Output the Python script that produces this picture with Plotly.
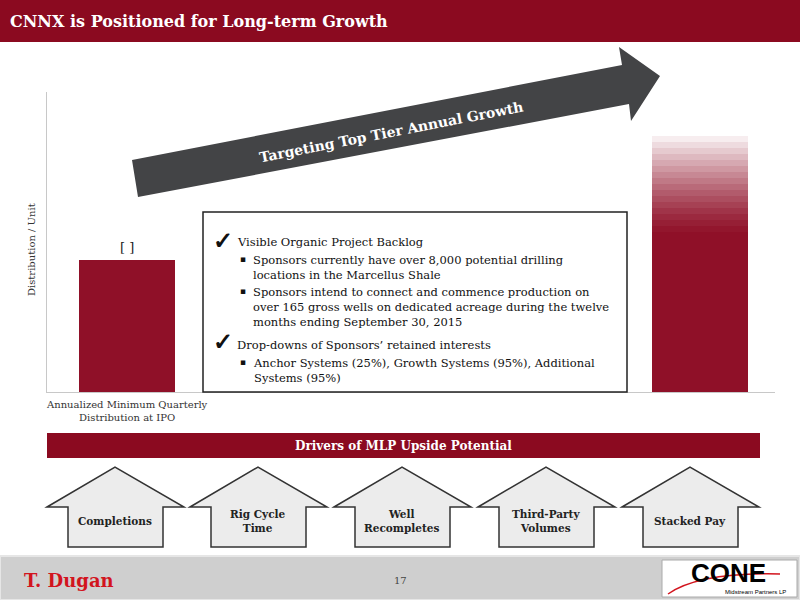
import plotly.graph_objects as go

categories = ["ipo", "future"]
base_values = [132, 160]
fade_steps = [6] * 17  # gradient segments stacked on the right bar (total top ~262)
drivers = ["Completions", "Rig Cycle<br>Time", "Well<br>Recompletes", "Third-Party<br>Volumes", "Stacked Pay"]

RED = "#8b0a20"
SERIF = "DejaVu Serif"
W, H = 800, 600
def px(x): return x / W
def py(y): return 1 - y / H

def mix(t):
    a = (143, 16, 40); b = (255, 255, 255)
    return "rgb(%d,%d,%d)" % tuple(round(a[i] + (b[i] - a[i]) * t) for i in range(3))

fig = go.Figure()
fig.add_bar(x=categories, y=base_values, width=0.166, marker=dict(color="#8f1028", line=dict(width=0)),
            showlegend=False, hoverinfo="skip")
n = len(fade_steps)
for i, s in enumerate(fade_steps):
    fig.add_bar(x=[categories[1]], y=[s], width=0.166,
                marker=dict(color=mix(((i + 1) / n) ** 1.3), line=dict(width=0)), showlegend=False, hoverinfo="skip")

shapes = []
shapes.append(dict(type="rect", xref="paper", yref="paper", x0=0, x1=1, y0=py(42), y1=1, fillcolor=RED, line_width=0, layer="below"))
pts = [(132, 160), (622, 65), (619, 47), (660, 76), (631, 121), (629, 104), (138, 197)]
path = "M " + " L ".join(f"{px(a)},{py(b)}" for a, b in pts) + " Z"
shapes.append(dict(type="path", xref="paper", yref="paper", path=path, fillcolor="#434446", line_width=0))
shapes.append(dict(type="rect", xref="paper", yref="paper", x0=px(203), x1=px(627), y0=py(392), y1=py(212),
                   fillcolor="white", line=dict(color="#222", width=1.5)))
shapes.append(dict(type="rect", xref="paper", yref="paper", x0=px(47), x1=px(760), y0=py(458), y1=py(433), fillcolor=RED, line_width=0))
house_x = [47, 190, 334, 478, 622]
for hx in house_x:
    hp = [(hx, 507), (hx + 68, 467), (hx + 137, 507), (hx + 116, 507), (hx + 116, 547), (hx + 21, 547), (hx + 21, 507)]
    p = "M " + " L ".join(f"{px(a)},{py(b)}" for a, b in hp) + " Z"
    shapes.append(dict(type="path", xref="paper", yref="paper", path=p, fillcolor="#ececec", line=dict(color="#333", width=1.5)))
shapes.append(dict(type="rect", xref="paper", yref="paper", x0=0, x1=1, y0=0, y1=py(556), fillcolor="#cfcfcf", line=dict(color="#e6e6e6", width=2)))
shapes.append(dict(type="rect", xref="paper", yref="paper", x0=px(662), x1=px(797), y0=py(597), y1=py(560), fillcolor="white", line=dict(color="#aaa", width=1)))
shapes.append(dict(type="path", xref="paper", yref="paper",
                   path=f"M {px(668)},{py(594)} Q {px(700)},{py(572)} {px(780)},{py(574)}",
                   line=dict(color="#d2141e", width=1.5)))

ann = []
def A(x, y, text, size, color="#222", xanchor="center", family=SERIF, **kw):
    ann.append(dict(x=px(x), y=py(y), xref="paper", yref="paper", text=text, showarrow=False, xanchor=xanchor,
                    yanchor="middle", font=dict(family=family, size=size, color=color), **kw))

A(8, 21, "<b>CNNX is Positioned for Long-term Growth</b>", 16, "white", "left")
A(391, 132, "<b>Targeting Top Tier Annual Growth</b>", 14, "white", textangle=-11)
ann.append(dict(x=categories[0], y=base_values[0], text="[ ]", showarrow=False, yanchor="bottom", yshift=3,
                font=dict(family=SERIF, size=13, color="#222")))
A(127, 411, "Annualized Minimum Quarterly<br>Distribution at IPO", 10, "#333")
A(31, 250, "Distribution / Unit", 10, "#333", textangle=-90)
box_lines = [
    (211, 240, "<b>✓</b>", 24),
    (235, 242, "Visible Organic Project Backlog", 11.5),
    (238, 259, "▪", 9), (251, 267, "Sponsors currently have over 8,000 potential drilling<br>locations in the Marcellus Shale", 11.5),
    (238, 291, "▪", 9), (251, 307, "Sponsors intend to connect and commence production on<br>over 165 gross wells on dedicated acreage during the twelve<br>months ending September 30, 2015", 11.5),
    (211, 342, "<b>✓</b>", 24),
    (235, 345, "Drop-downs of Sponsors’ retained interests", 11.5),
    (238, 362, "▪", 9), (251, 370, "Anchor Systems (25%), Growth Systems (95%), Additional<br>Systems (95%)", 11.5),
]
for x, y, t, s in box_lines:
    A(x, y, t, s, "#111", "left", align="left")
A(403, 446, "<b>Drivers of MLP Upside Potential</b>", 12, "white")
for hx, d in zip(house_x, drivers):
    A(hx + 68, 521, f"<b>{d}</b>", 10.5, "#222")
A(22, 580, "<b>T. Dugan</b>", 18, "#d2141e", "left")
A(400, 580, "17", 10, "#444")
A(728, 573, "<b>CONE</b>", 26, "black", family="Liberation Sans")
A(755, 592, "Midstream Partners LP", 6, "black", family="Liberation Sans")

fig.update_layout(
    width=W, height=H, margin=dict(l=0, r=0, t=0, b=0), paper_bgcolor="white", plot_bgcolor="white",
    barmode="stack", bargap=0, shapes=shapes, annotations=ann,
    xaxis=dict(domain=[px(47), px(775)], type="category", range=[-0.1396, 1.131], showticklabels=False,
               showgrid=False, showline=True, linecolor="#c8c8c8", zeroline=False, fixedrange=True),
    yaxis=dict(domain=[py(392), py(92)], range=[0, 300], showticklabels=False, showgrid=False,
               showline=True, linecolor="#c8c8c8", zeroline=False, fixedrange=True),
)
fig.write_html("out.html", config={"displayModeBar": False}, post_script="document.body.style.margin='0';")
